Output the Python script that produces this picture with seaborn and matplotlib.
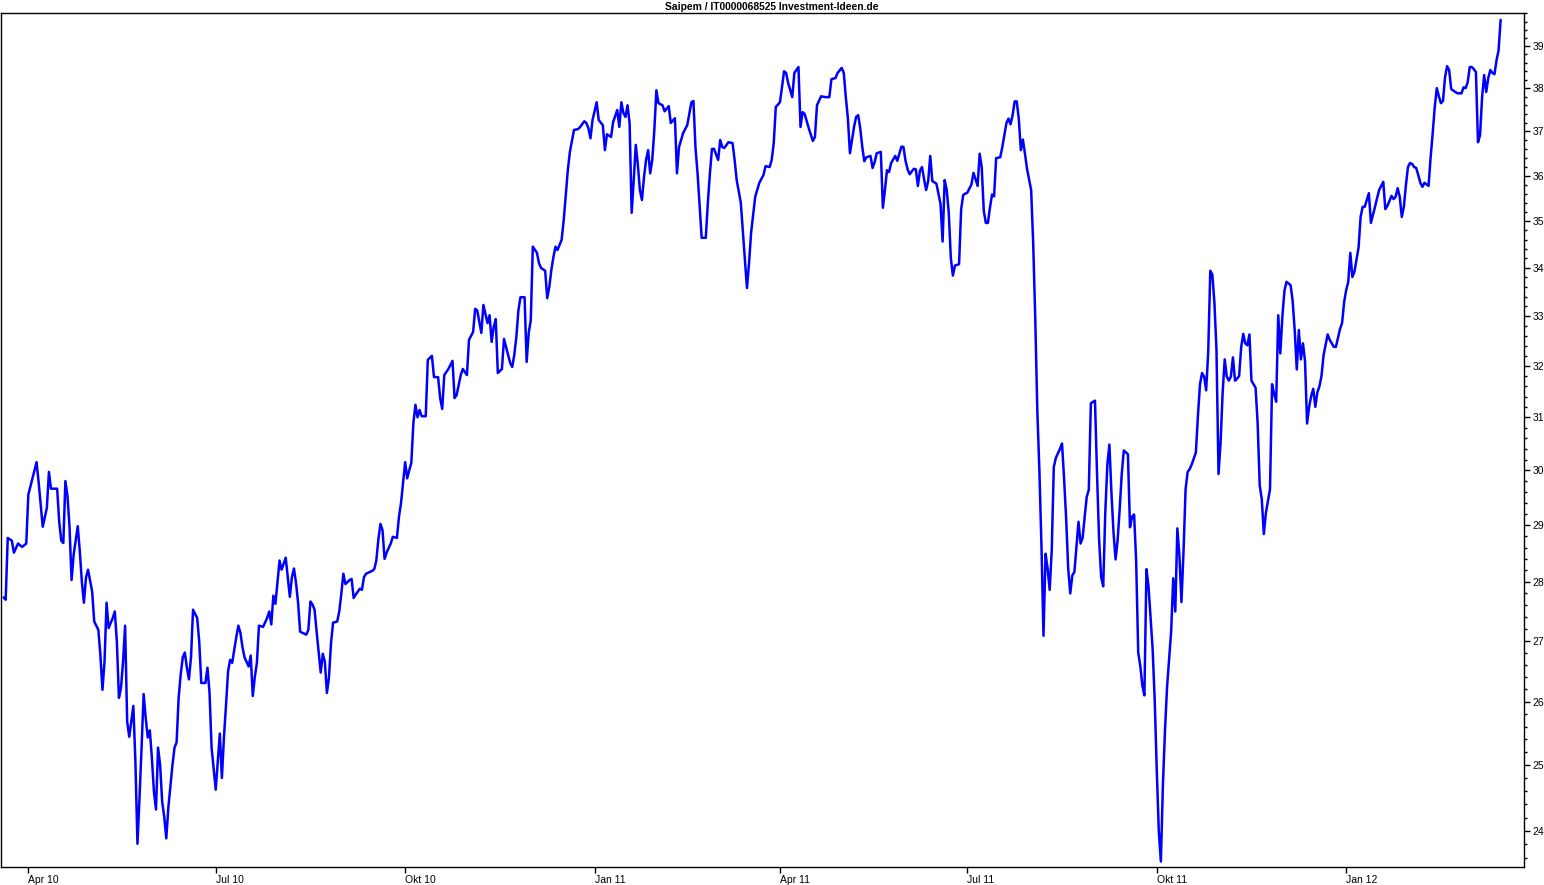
import matplotlib
matplotlib.use("Agg")
import matplotlib.pyplot as plt
import matplotlib.ticker as mticker
import numpy as np
import pandas as pd
import seaborn as sns

TITLE = "Saipem / IT0000068525 Investment-Ideen.de"
START_DATE = "2010-03-18"

# days after START_DATE
day_offsets = [
    2, 3, 4, 6, 7, 9, 11, 13, 14, 16,
    18, 19, 21, 23, 24, 25, 28, 29, 30, 31,
    32, 33, 34, 35, 36, 38, 39, 40, 41, 42,
    43, 45, 46, 48, 49, 50, 51, 52, 53, 55,
    56, 57, 58, 59, 60, 61, 62, 63, 64, 65,
    66, 67, 68, 69, 70, 71, 72, 73, 74, 75,
    76, 77, 78, 79, 80, 81, 82, 84, 85, 86,
    87, 88, 89, 90, 91, 92, 93, 94, 96, 97,
    98, 100, 101, 102, 103, 105, 107, 108, 109, 110,
    111, 112, 113, 115, 116, 117, 118, 119, 121, 122,
    123, 124, 125, 126, 128, 130, 131, 132, 133, 134,
    136, 137, 139, 140, 141, 142, 143, 144, 145, 146,
    147, 149, 150, 151, 152, 153, 154, 155, 156, 157,
    158, 159, 160, 161, 162, 164, 165, 166, 167, 168,
    170, 171, 172, 173, 175, 176, 177, 178, 181, 182,
    183, 184, 185, 186, 187, 188, 190, 191, 193, 194,
    195, 197, 198, 199, 200, 201, 202, 203, 204, 205,
    207, 208, 210, 211, 213, 214, 215, 216, 217, 218,
    220, 221, 222, 224, 225, 227, 228, 230, 231, 232,
    234, 235, 237, 238, 239, 240, 241, 242, 244, 245,
    246, 248, 249, 250, 251, 252, 253, 255, 256, 257,
    258, 259, 261, 262, 263, 265, 266, 267, 268, 269,
    270, 271, 273, 274, 275, 276, 277, 279, 281, 282,
    284, 285, 286, 287, 288, 290, 291, 293, 294, 295,
    297, 298, 300, 301, 302, 303, 304, 305, 306, 307,
    308, 309, 310, 311, 312, 313, 314, 315, 316, 317,
    318, 319, 320, 322, 323, 325, 326, 328, 329, 330,
    332, 334, 336, 337, 338, 339, 341, 343, 344, 345,
    346, 347, 349, 350, 351, 352, 354, 356, 357, 358,
    360, 361, 362, 363, 364, 365, 366, 367, 369, 371,
    372, 374, 375, 376, 377, 379, 380, 381, 382, 383,
    385, 386, 388, 389, 390, 391, 393, 395, 396, 397,
    399, 401, 403, 404, 406, 407, 409, 410, 411, 412,
    413, 414, 415, 416, 417, 418, 419, 420, 421, 423,
    424, 425, 426, 428, 429, 430, 431, 432, 433, 435,
    436, 438, 439, 440, 441, 442, 444, 445, 446, 447,
    448, 449, 450, 451, 452, 453, 455, 457, 458, 459,
    460, 461, 462, 463, 464, 466, 467, 468, 469, 470,
    472, 473, 474, 475, 476, 477, 478, 479, 480, 481,
    482, 483, 484, 486, 487, 488, 489, 490, 491, 492,
    493, 494, 495, 496, 497, 498, 499, 500, 501, 502,
    503, 504, 505, 506, 507, 508, 509, 510, 511, 512,
    513, 515, 516, 517, 518, 519, 520, 521, 522, 523,
    524, 525, 526, 527, 528, 529, 530, 532, 533, 534,
    535, 536, 537, 538, 539, 540, 541, 542, 543, 544,
    545, 546, 548, 549, 550, 551, 552, 553, 554, 555,
    556, 557, 558, 559, 560, 561, 562, 563, 564, 565,
    566, 567, 568, 569, 570, 571, 572, 573, 574, 575,
    576, 577, 578, 579, 581, 582, 583, 584, 585, 586,
    587, 588, 589, 590, 591, 592, 593, 594, 595, 596,
    597, 598, 599, 600, 601, 602, 603, 604, 605, 606,
    607, 608, 610, 611, 612, 613, 614, 615, 617, 618,
    619, 620, 621, 622, 623, 624, 625, 627, 628, 629,
    630, 631, 632, 633, 634, 635, 636, 637, 638, 639,
    640, 641, 642, 643, 645, 646, 648, 649, 650, 651,
    652, 653, 654, 655, 656, 657, 658, 659, 660, 661,
    662, 663, 664, 665, 666, 667, 668, 669, 670, 671,
    672, 673, 674, 675, 676, 677, 678, 679, 680, 681,
    682, 683, 684, 685, 686, 687, 688, 689, 690, 691,
    692, 694, 695, 696, 697, 698, 699, 700, 701, 702,
    703, 704, 705, 707, 708, 710, 711, 712, 713, 714,
    715, 716, 717, 718, 719, 720, 721, 722, 723, 724,
    725, 726, 727, 728, 729,
]

# closing prices (EUR)
prices = [
    27.73, 27.69, 28.77, 28.72, 28.51, 28.67, 28.61, 28.67, 29.55, 29.85,
    30.15, 29.78, 28.97, 29.31, 29.97, 29.66, 29.66, 29.06, 28.72, 28.68,
    29.80, 29.53, 28.97, 28.03, 28.47, 28.98, 28.53, 28.00, 27.64, 28.07,
    28.21, 27.83, 27.32, 27.18, 26.76, 26.19, 26.65, 27.64, 27.21, 27.38,
    27.49, 26.98, 26.06, 26.22, 26.65, 27.25, 25.68, 25.44, 25.68, 25.93,
    25.05, 23.81, 24.50, 25.27, 26.12, 25.74, 25.43, 25.54, 25.11, 24.59,
    24.32, 25.27, 25.00, 24.44, 24.21, 23.89, 24.35, 25.00, 25.27, 25.35,
    26.06, 26.44, 26.72, 26.80, 26.55, 26.36, 26.72, 27.52, 27.38, 26.98,
    26.30, 26.30, 26.55, 26.14, 25.27, 24.62, 25.49, 24.80, 25.43, 25.94,
    26.49, 26.68, 26.63, 27.06, 27.25, 27.13, 26.89, 26.72, 26.57, 26.75,
    26.09, 26.40, 26.63, 27.25, 27.23, 27.38, 27.49, 27.27, 27.76, 27.62,
    28.37, 28.21, 28.42, 28.08, 27.74, 28.08, 28.23, 27.98, 27.64, 27.15,
    27.13, 27.10, 27.18, 27.66, 27.61, 27.52, 27.15, 26.81, 26.47, 26.78,
    26.65, 26.14, 26.39, 26.96, 27.30, 27.32, 27.49, 27.79, 28.14, 27.96,
    28.03, 28.05, 27.72, 27.78, 27.88, 27.86, 28.08, 28.14, 28.19, 28.22,
    28.37, 28.75, 29.02, 28.91, 28.40, 28.51, 28.67, 28.79, 28.77, 29.15,
    29.40, 30.15, 29.85, 30.00, 30.14, 30.89, 31.24, 31.00, 31.14, 31.02,
    31.02, 32.12, 32.20, 31.78, 31.78, 31.37, 31.16, 31.82, 31.88, 31.94,
    32.10, 31.37, 31.43, 31.82, 31.94, 31.82, 32.52, 32.68, 33.15, 33.12,
    32.66, 33.23, 32.86, 33.02, 32.48, 32.78, 32.94, 31.86, 31.94, 32.54,
    32.38, 32.06, 31.98, 32.22, 32.58, 33.12, 33.39, 33.39, 32.08, 32.66,
    32.92, 34.45, 34.32, 34.10, 34.00, 33.94, 33.37, 33.60, 33.96, 34.23,
    34.45, 34.38, 34.60, 35.02, 35.57, 36.12, 36.53, 37.03, 37.05, 37.10,
    37.23, 37.19, 37.07, 36.84, 37.26, 37.67, 37.26, 37.14, 36.57, 36.93,
    36.87, 37.21, 37.49, 37.10, 37.67, 37.42, 37.33, 37.60, 37.19, 35.18,
    35.90, 36.69, 36.24, 35.68, 35.46, 35.97, 36.35, 36.57, 36.05, 36.35,
    37.02, 37.95, 37.65, 37.60, 37.46, 37.58, 37.19, 37.30, 36.05, 36.64,
    36.96, 37.14, 37.67, 37.70, 36.62, 36.05, 34.64, 34.64, 35.40, 36.05,
    36.60, 36.60, 36.35, 36.80, 36.64, 36.62, 36.75, 36.73, 36.35, 35.90,
    35.40, 34.77, 34.17, 33.58, 34.10, 34.75, 35.13, 35.53, 35.84, 36.01,
    36.21, 36.19, 36.35, 36.73, 37.56, 37.67, 38.02, 38.40, 38.36, 38.12,
    37.79, 38.36, 38.50, 37.10, 37.44, 37.40, 37.07, 36.78, 36.87, 37.60,
    37.81, 37.79, 37.79, 38.21, 38.24, 38.36, 38.48, 38.36, 37.79, 37.30,
    36.50, 36.80, 37.10, 37.33, 37.37, 37.07, 36.64, 36.32, 36.41, 36.44,
    36.17, 36.30, 36.50, 36.53, 35.29, 35.68, 36.12, 36.08, 36.28, 36.44,
    36.33, 36.65, 36.64, 36.33, 36.14, 36.03, 36.15, 36.14, 35.77, 36.11,
    36.19, 35.92, 35.68, 35.88, 36.44, 35.88, 35.82, 35.37, 34.56, 35.90,
    35.68, 35.18, 34.21, 33.84, 34.05, 34.08, 35.25, 35.57, 35.60, 35.62,
    35.80, 36.06, 35.92, 35.77, 36.49, 36.19, 35.22, 34.96, 34.96, 35.29,
    35.58, 35.54, 36.39, 36.41, 36.64, 36.92, 37.19, 37.29, 37.16, 37.37,
    37.69, 37.69, 37.29, 36.57, 36.81, 36.49, 36.15, 35.92, 35.68, 34.52,
    32.95, 31.12, 30.00, 28.65, 27.08, 28.49, 28.23, 27.86, 28.55, 30.06,
    30.23, 30.40, 30.50, 29.84, 29.12, 28.23, 27.80, 28.11, 28.17, 28.61,
    29.06, 28.67, 28.77, 29.15, 29.51, 29.64, 31.27, 31.32, 29.93, 28.74,
    28.08, 27.92, 29.22, 30.10, 30.48, 29.58, 28.87, 28.39, 28.73, 29.29,
    29.93, 30.37, 30.30, 28.96, 29.15, 29.19, 28.36, 26.80, 26.58, 26.26,
    26.10, 28.22, 27.92, 27.39, 26.86, 26.03, 24.93, 23.99, 23.55, 24.70,
    25.54, 26.23, 26.70, 27.16, 28.06, 27.49, 28.94, 28.46, 27.65, 28.53,
    29.65, 29.97, 30.02, 30.11, 30.33, 31.03, 31.64, 31.86, 31.79, 31.52,
    32.29, 33.94, 33.86, 33.28, 32.33, 29.93, 30.52, 31.48, 32.13, 31.79,
    31.71, 31.79, 32.17, 31.71, 31.75, 31.80, 32.37, 32.64, 32.45, 32.41,
    32.63, 31.71, 31.57, 30.88, 29.72, 29.47, 28.84, 29.22, 29.65, 31.64,
    31.45, 31.30, 33.02, 32.25, 32.99, 33.52, 33.71, 33.64, 33.31, 32.71,
    31.93, 32.72, 32.13, 32.45, 32.10, 30.88, 31.20, 31.41, 31.55, 31.20,
    31.48, 31.60, 31.80, 32.21, 32.63, 32.52, 32.38, 32.38, 32.56, 32.74,
    32.86, 33.29, 33.54, 33.71, 34.32, 33.81, 33.92, 34.17, 34.43, 35.09,
    35.31, 35.31, 35.46, 35.61, 34.96, 35.13, 35.31, 35.50, 35.68, 35.77,
    35.86, 35.26, 35.33, 35.44, 35.55, 35.48, 35.53, 35.72, 35.53, 35.09,
    35.31, 35.79, 36.19, 36.28, 36.26, 36.19, 36.17, 36.01, 35.84, 35.75,
    35.84, 35.77, 36.41, 36.95, 37.56, 38.00, 37.81, 37.65, 37.70, 38.26,
    38.52, 38.43, 37.98, 37.91, 37.88, 37.88, 38.02, 38.00, 38.14, 38.50,
    38.50, 38.45, 38.38, 36.75, 36.91, 37.79, 38.31, 37.91, 38.24, 38.43,
    38.36, 38.33, 38.66, 38.90, 39.64,
]

tick_dates = ["2010-04-01", "2010-07-01", "2010-10-01", "2011-01-01",
              "2011-04-01", "2011-07-01", "2011-10-01", "2012-01-01"]
tick_labels = ["Apr 10", "Jul 10", "Okt 10", "Jan 11",
               "Apr 11", "Jul 11", "Okt 11", "Jan 12"]
price_ticks = list(range(24, 40))


def main():
    assert len(day_offsets) == len(prices), (len(day_offsets), len(prices))

    df = pd.DataFrame({
        "date": pd.Timestamp(START_DATE) + pd.to_timedelta(day_offsets, unit="D"),
        "price": prices,
    })

    sns.set_theme(style="white")
    plt.rcParams["font.family"] = ["Liberation Sans", "DejaVu Sans"]

    fig = plt.figure(figsize=(15.44, 8.85), dpi=100)
    ax = fig.add_axes([0.00045, 0.0203, 0.9868, 0.9646])

    sns.lineplot(data=df, x="date", y="price", estimator=None, sort=False,
                 color="#0000ff", linewidth=1.8, ax=ax)

    # log price axis, labels on the right
    ax.set_yscale("log")
    ax.set_ylim(23.47, 39.8)
    ax.set_xlim(pd.Timestamp("2010-03-18 14:00"), pd.Timestamp("2012-03-27 12:00"))

    ax.yaxis.tick_right()
    ax.yaxis.set_major_locator(mticker.FixedLocator(price_ticks))
    ax.yaxis.set_major_formatter(mticker.FixedFormatter([str(t) for t in price_ticks]))
    ax.yaxis.set_minor_locator(mticker.FixedLocator(np.arange(23.6, 39.81, 0.2)))
    ax.yaxis.set_minor_formatter(mticker.NullFormatter())

    ax.set_xticks(pd.to_datetime(tick_dates))
    ax.set_xticklabels(tick_labels, ha="left")
    ax.xaxis.set_minor_locator(mticker.NullLocator())

    ax.tick_params(axis="y", which="major", right=True, left=False, length=4,
                   width=1, color="black", labelsize=7.5, pad=2, labelcolor="black")
    ax.tick_params(axis="y", which="minor", right=True, left=False, length=2.5,
                   width=1, color="black")
    ax.tick_params(axis="x", which="major", bottom=True, top=False, length=4,
                   width=1, color="black", labelsize=7.5, pad=2, labelcolor="black")

    ax.set_xlabel("")
    ax.set_ylabel("")
    for spine in ax.spines.values():
        spine.set_color("black")
        spine.set_linewidth(1.0)

    fig.text(0.5, 1 - 6.5 / 885, TITLE, ha="center", va="center",
             fontsize=7.4, fontweight="bold", color="black")

    fig.savefig("out.png", dpi=100)


if __name__ == "__main__":
    main()
